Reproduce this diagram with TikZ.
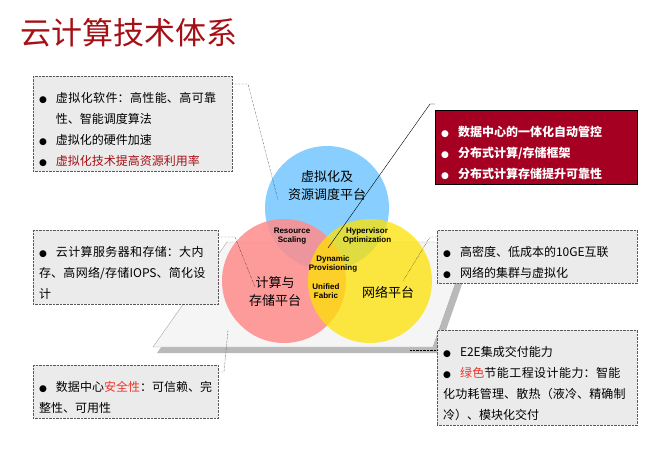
\documentclass[tikz,border=0pt]{standalone}
\usepackage{fontspec}
\setmainfont{Noto Sans CJK SC}
\setsansfont{Liberation Sans}
\newfontfamily\symfont{DejaVu Sans}
\XeTeXlinebreaklocale "zh"
\XeTeXlinebreakskip=0pt plus 1pt
\usetikzlibrary{positioning}
\definecolor{titlered}{HTML}{A50F15}
\definecolor{boxred}{HTML}{A50021}
\definecolor{boxgray}{HTML}{EBEBEB}
\definecolor{hlred}{HTML}{E8352A}
\newcommand\bitem{\par\hangindent=1.4em\hangafter=1\noindent\makebox[1.4em][l]{{\symfont\fontsize{9}{9}\selectfont●}}}
\tikzset{
  infobox/.style={draw=gray!70!black, densely dotted, fill=boxgray, anchor=north west,
    inner xsep=6pt, inner ysep=5pt, align=left, font=\fontsize{12}{21}\selectfont},
  hotbox/.style={infobox, solid, draw=black, fill=boxred, text=white, font=\bfseries\fontsize{12}{21}\selectfont},
  lead/.style={densely dotted, thin, black},
  venn/.style={circle, minimum size=124pt, inner sep=0pt, fill opacity=0.85, text opacity=1},
  vlabel/.style={font=\fontsize{13}{18}\selectfont, align=center},
  minilabel/.style={font=\sffamily\bfseries\fontsize{8}{9}\selectfont, align=center}
}
\begin{document}
\begin{tikzpicture}[x=1pt,y=-1pt]
\useasboundingbox (0,0) rectangle (670,455);
\node[anchor=west, text=titlered, font=\fontsize{31}{33}\selectfont] (title) at (17,33) {云计算技术体系};

% platform under the circles
\fill[gray!55] (231,247) -- (475,247) -- (438,353) -- (157,353) -- cycle;
\filldraw[draw=gray!70, fill=gray!8] (227,242) -- (470,242) -- (433,347) -- (153,347) -- cycle;

% circles
\node[venn, fill=blue!40!cyan!55!white] (virt) at (327,208) {};
\node[venn, fill=red!45] (comp) at (284,281) {};
\node[venn, fill=yellow!85!orange, fill opacity=0.75] (net) at (370,281) {};

\node[vlabel] (virtlbl) at (327,186) {虚拟化及\\资源调度平台};
\node[vlabel] (complbl) at (275,292) {计算与\\存储平台};
\node[vlabel] (netlbl) at (388,292) {网络平台};
\node[minilabel] (rs) at (292,236) {Resource\\Scaling};
\node[minilabel] (hv) at (367,236) {Hypervisor\\Optimization};
\node[minilabel] (dp) at (333,264) {Dynamic\\Provisioning};
\node[minilabel] (uf) at (326,291) {Unified\\Fabric};

% boxes
\node[infobox, text width=187pt] (soft) at (33,76) {\bitem 虚拟化软件：高性能、高可靠性、智能调度算法\bitem 虚拟化的硬件加速\bitem \textcolor{titlered}{虚拟化技术提高资源利用率}};
\node[hotbox, text width=190pt] (dc) at (435,110) {\bitem 数据中心的一体化自动管控\bitem 分布式计算/存储框架\bitem 分布式计算存储提升可靠性};
\node[infobox, text width=173pt] (server) at (33,230) {\bitem 云计算服务器和存储：大内存、高网络/存储IOPS、简化设计};
\node[infobox, text width=188pt] (link) at (437,230) {\bitem 高密度、低成本的10GE互联\bitem 网络的集群与虚拟化};
\node[infobox, text width=188pt] (e2e) at (437,330) {\bitem E2E集成交付能力\bitem \textcolor{hlred}{绿色}节能工程设计能力：智能化功耗管理、散热（液冷、精确制冷）、模块化交付};
\node[infobox, text width=173pt] (sec) at (33,365) {\bitem 数据中心\textcolor{hlred}{安全性}：可信赖、完整性、可用性};

% leaders
\coordinate (c1) at (248,84);
\coordinate (c2) at (278,200);
\draw[lead] (soft.north east |- c1) -- (c1) -- (c2);
\coordinate (c3) at (430,104);
\coordinate (c4) at (328,248);
\draw[thin] (dc.north west |- c3) -- (c3) -- (c4);
\coordinate (c5) at (235,237);
\coordinate (c6) at (255,287);
\draw[lead] (server.north east |- c5) -- (c5) -- (c6);
\coordinate (c7) at (430,237);
\coordinate (c8) at (403,281);
\draw[lead] (link.north west |- c7) -- (c7) -- (c8);
\coordinate (c9) at (410,350);
\draw[lead] (e2e.west |- c9) -- (c9);
\coordinate (c10) at (228,330);
\coordinate (c11) at (224,372);
\draw[lead] (c10) -- (c11) -- (sec.east |- c11);
\end{tikzpicture}
\end{document}
